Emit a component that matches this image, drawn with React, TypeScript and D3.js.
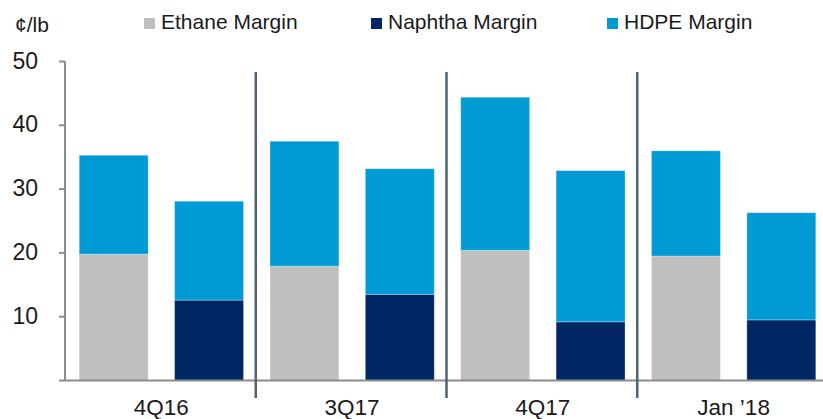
import React from "react";
import * as d3 from "d3";

const periods = ["4Q16", "3Q17", "4Q17", "Jan \u201918"];
const ethaneMargin = [19.8, 17.9, 20.4, 19.5];
const naphthaMargin = [12.6, 13.5, 9.2, 9.5];
const hdpeOnEthane = [15.5, 19.6, 24.0, 16.5];
const hdpeOnNaphtha = [15.5, 19.7, 23.7, 16.8];
const yTicks = [10, 20, 30, 40, 50];
const legendItems = ["Ethane Margin", "Naphtha Margin", "HDPE Margin"];

const W = 823;
const H = 419;
const COLORS: Record<string, string> = {
  "Ethane Margin": "#BFBFBF",
  "Naphtha Margin": "#002663",
  "HDPE Margin": "#009BD5",
};
const FONT = "'Liberation Sans', Arial, sans-serif";

export default function App() {
  const x0 = d3.scaleBand<string>().domain(periods).range([66, 829]).padding(0);
  const x1 = d3
    .scaleBand<string>()
    .domain(["ethane", "naphtha"])
    .range([0, x0.bandwidth()])
    .paddingInner(0.277)
    .paddingOuter(0.1385);
  const y = d3.scaleLinear().domain([0, 50]).range([380.5, 61.5]);

  const bars: { x: number; y0: number; y1: number; color: string; key: string }[] = [];
  periods.forEach((p, i) => {
    const gx = x0(p)!;
    const ex = gx + x1("ethane")!;
    const nx = gx + x1("naphtha")!;
    bars.push({ key: `e${i}`, x: ex, y0: 0, y1: ethaneMargin[i], color: COLORS["Ethane Margin"] });
    bars.push({
      key: `eh${i}`,
      x: ex,
      y0: ethaneMargin[i],
      y1: ethaneMargin[i] + hdpeOnEthane[i],
      color: COLORS["HDPE Margin"],
    });
    bars.push({ key: `n${i}`, x: nx, y0: 0, y1: naphthaMargin[i], color: COLORS["Naphtha Margin"] });
    bars.push({
      key: `nh${i}`,
      x: nx,
      y0: naphthaMargin[i],
      y1: naphthaMargin[i] + hdpeOnNaphtha[i],
      color: COLORS["HDPE Margin"],
    });
  });

  const legendX = [144, 371, 607];

  return (
    <svg
      width={W}
      height={H}
      style={{ position: "absolute", left: 0, top: 0, background: "#fff" }}
      fontFamily={FONT}
    >
      {/* unit label */}
      <text x={15} y={32} fontSize={21} fill="#1a1a1a">
        ¢/lb
      </text>

      {/* legend */}
      {legendItems.map((name, i) => (
        <g key={name}>
          <rect x={legendX[i]} y={18} width={11} height={11} fill={COLORS[name]} />
          <text x={legendX[i] + 17} y={29} fontSize={21} fill="#1a1a1a">
            {name}
          </text>
        </g>
      ))}

      {/* bars */}
      {bars.map((b) => (
        <rect
          key={b.key}
          x={b.x}
          y={y(b.y1)}
          width={x1.bandwidth()}
          height={y(b.y0) - y(b.y1)}
          fill={b.color}
          stroke="rgba(255,255,255,0.3)"
          strokeWidth={1}
        />
      ))}

      {/* y axis */}
      <line x1={65} x2={65} y1={y(50)} y2={y(0)} stroke="#8c8c8c" strokeWidth={2} />
      {yTicks.map((t) => (
        <g key={t}>
          <line x1={59} x2={65} y1={y(t)} y2={y(t)} stroke="#8c8c8c" strokeWidth={2} />
          <text x={38} y={y(t) + 7} fontSize={23} textAnchor="end" fill="#1a1a1a">
            {t}
          </text>
        </g>
      ))}

      {/* x axis */}
      <line x1={59} x2={W} y1={y(0)} y2={y(0)} stroke="#8c8c8c" strokeWidth={2} />

      {/* separators */}
      {periods.slice(1).map((p) => (
        <line
          key={p}
          x1={x0(p)! - 1}
          x2={x0(p)! - 1}
          y1={72}
          y2={398}
          stroke="#4f6375"
          strokeWidth={2.5}
        />
      ))}

      {/* category labels */}
      {periods.map((p) => (
        <text
          key={p}
          x={x0(p)! + x0.bandwidth() / 2}
          y={415}
          fontSize={22.5}
          textAnchor="middle"
          fill="#1a1a1a"
        >
          {p}
        </text>
      ))}
    </svg>
  );
}
